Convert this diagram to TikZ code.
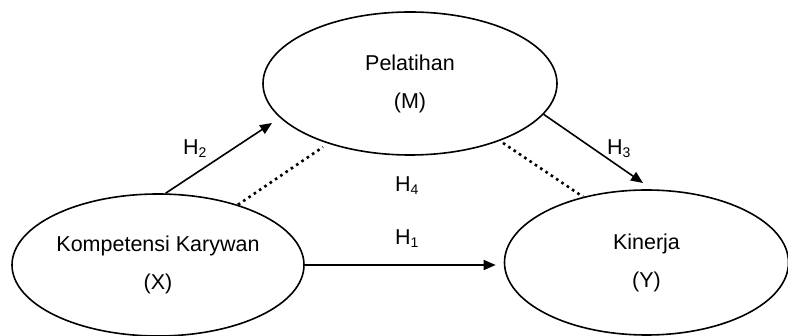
\documentclass[tikz,border=0pt]{standalone}
\usepackage{fontspec}
\setmainfont{Liberation Sans}
\usetikzlibrary{arrows.meta,shapes.geometric}
\tikzset{
  var/.style={draw, ellipse, line width=1.6pt, inner sep=0pt, align=center,
    font=\fontsize{21.5}{38}\selectfont},
  hyp/.style={inner sep=0pt, anchor=base west, font=\fontsize{21.5}{26}\selectfont},
  path arrow/.style={line width=1.6pt, -{Triangle[length=12pt,width=10pt]}},
  dotline/.style={line width=2.6pt, dash pattern=on 2.6pt off 3.8pt}
}
\newcommand{\hsub}[1]{H\raisebox{-3pt}{\fontsize{14}{14}\selectfont #1}}
\begin{document}
\begin{tikzpicture}[x=1pt,y=-1pt]
\useasboundingbox (0,0) rectangle (788,336);

% latent variables
\node[var, minimum width=294pt, minimum height=143pt] (M) at (410,83.5) {Pelatihan\\(M)};
\node[var, minimum width=292pt, minimum height=142pt] (X) at (158,265) {Kompetensi Karywan\\(X)};
\node[var, minimum width=284pt, minimum height=145pt] (Y) at (646.5,262.5) {Kinerja\\(Y)};

% free ends of the paths
\coordinate (h2end) at (272,123);
\coordinate (h3end) at (643,183);
\coordinate (h4a) at (323,147);
\coordinate (h4b) at (503,143);

% direct and mediated paths
\draw[path arrow] (X.84.4) -- (h2end);
\draw[path arrow] (M.-13.4) -- (h3end);
\draw[path arrow, shorten >=8pt] (X.east) -- (X.east -| Y.west);

% indirect effect (dotted)
\draw[dotline] (X.37.3) -- (h4a);
\draw[dotline] (h4b) -- (Y.134.6);

% hypothesis labels
\node[hyp] (lh2) at (183,155) {\hsub{2}};
\node[hyp] (lh3) at (607,155) {\hsub{3}};
\node[hyp] (lh4) at (395,192) {\hsub{4}};
\node[hyp] (lh1) at (395,245) {\hsub{1}};
\end{tikzpicture}
\end{document}
